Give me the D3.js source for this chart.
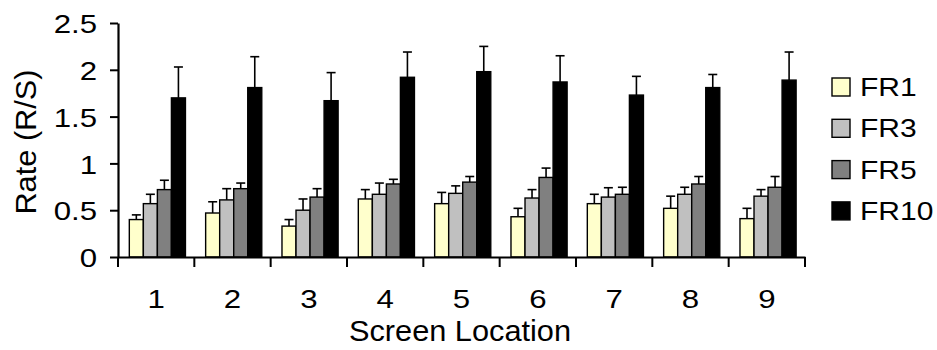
<!DOCTYPE html>
<html>
<head>
<meta charset="utf-8">
<script src="https://cdn.jsdelivr.net/npm/d3@7"></script>
<style>
	body { margin: 0; background: #fff; }
	svg { display: block; font-family: "Liberation Sans", Arial, sans-serif; }
</style>
</head>
<body>
<svg id="chart" width="937" height="350"></svg>
<script>
const locations = ["1", "2", "3", "4", "5", "6", "7", "8", "9"];
const seriesNames = ["FR1", "FR3", "FR5", "FR10"];
const seriesColors = ["#ffffcc", "#c0c0c0", "#808080", "#000000"];
const yTicks = [0, 0.5, 1, 1.5, 2, 2.5];

// mean rate per location, one array per series
const fr1 = [0.40, 0.47, 0.33, 0.62, 0.57, 0.43, 0.57, 0.52, 0.41];
const fr3 = [0.57, 0.61, 0.50, 0.67, 0.68, 0.63, 0.64, 0.67, 0.65];
const fr5 = [0.72, 0.73, 0.64, 0.78, 0.80, 0.85, 0.67, 0.78, 0.745];
const fr10 = [1.70, 1.81, 1.67, 1.92, 1.98, 1.87, 1.73, 1.81, 1.89];

// upper error bar length
const fr1Err = [0.05, 0.12, 0.07, 0.10, 0.12, 0.09, 0.10, 0.13, 0.11];
const fr3Err = [0.10, 0.12, 0.12, 0.12, 0.08, 0.09, 0.10, 0.075, 0.07];
const fr5Err = [0.10, 0.06, 0.09, 0.05, 0.06, 0.10, 0.075, 0.08, 0.115];
const fr10Err = [0.33, 0.33, 0.30, 0.27, 0.27, 0.28, 0.20, 0.14, 0.30];

const values = [fr1, fr3, fr5, fr10];
const errors = [fr1Err, fr3Err, fr5Err, fr10Err];

const svg = d3.select("#chart");
const plotLeft = 118, plotRight = 805, plotTop = 23, plotBottom = 257;
const font = "Liberation Sans, Arial, sans-serif";
// the reference text is drawn wider than Arial, so labels get a horizontal stretch
const labelStretch = 1.2;
const titleStretch = 1.06;

const x0 = d3.scaleBand().domain(locations).range([plotLeft, plotRight]).padding(0);
const x1 = d3.scaleBand().domain(seriesNames).range([0, x0.bandwidth()])
	.paddingInner(0).paddingOuter(0.72).align(0.56);
const y = d3.scaleLinear().domain([0, 2.5]).range([plotBottom, plotTop]);

const rows = [];
locations.forEach((loc, i) => {
	seriesNames.forEach((s, j) => {
		rows.push({ loc, s, j, v: values[j][i], e: errors[j][i] });
	});
});
const cx = (d) => x0(d.loc) + x1(d.s) + x1.bandwidth() / 2;

// error bars (drawn first so bar top covers the stem start)
const eb = svg.append("g").attr("stroke", "#000").attr("stroke-width", 1.6);
eb.selectAll("line.stem").data(rows).enter().append("line")
	.attr("x1", cx).attr("x2", cx)
	.attr("y1", (d) => y(d.v))
	.attr("y2", (d) => y(d.v + d.e));
eb.selectAll("line.cap").data(rows).enter().append("line")
	.attr("x1", (d) => cx(d) - 4.5)
	.attr("x2", (d) => cx(d) + 4.5)
	.attr("y1", (d) => y(d.v + d.e))
	.attr("y2", (d) => y(d.v + d.e));

svg.append("g").selectAll("rect").data(rows).enter().append("rect")
	.attr("x", (d) => x0(d.loc) + x1(d.s))
	.attr("y", (d) => y(d.v))
	.attr("width", x1.bandwidth())
	.attr("height", (d) => y(0) - y(d.v))
	.attr("fill", (d) => seriesColors[d.j])
	.attr("stroke", "#000")
	.attr("stroke-width", 1.4);

// y axis
const yAxis = svg.append("g")
	.attr("transform", `translate(${plotLeft},0)`)
	.call(d3.axisLeft(y).tickValues(yTicks).tickSize(8).tickSizeOuter(0).tickFormat(d3.format("")));
yAxis.select(".domain").attr("stroke-width", 2.2);
yAxis.selectAll(".tick line").attr("stroke-width", 2);
yAxis.selectAll("text")
	.attr("font-size", 26).attr("font-family", font).attr("fill", "#000")
	.attr("x", -21 / labelStretch).attr("dy", "0.37em")
	.attr("transform", `scale(${labelStretch},1)`);

// x axis: labels centred in bands, ticks on band boundaries
const xAxis = svg.append("g")
	.attr("transform", `translate(0,${plotBottom})`)
	.call(d3.axisBottom(x0).tickSize(0).tickSizeOuter(0));
xAxis.select(".domain").attr("stroke-width", 2.2);
xAxis.selectAll("text")
	.attr("font-size", 26).attr("font-family", font).attr("fill", "#000")
	.attr("y", 51).attr("dy", 0)
	.attr("transform", `scale(${labelStretch},1)`);
const bounds = locations.map((l) => x0(l)).concat([plotRight]);
svg.append("g").selectAll("line").data(bounds).enter().append("line")
	.attr("x1", (d) => d).attr("x2", (d) => d)
	.attr("y1", plotBottom).attr("y2", plotBottom + 10)
	.attr("stroke", "#000").attr("stroke-width", 2);

// axis titles
svg.append("text")
	.attr("transform", `translate(36,142) rotate(-90) scale(${titleStretch},1)`)
	.attr("text-anchor", "middle")
	.attr("font-size", 29)
	.text("Rate (R/S)");
svg.append("text")
	.attr("transform", `translate(460,341) scale(${titleStretch},1)`)
	.attr("text-anchor", "middle")
	.attr("font-size", 29)
	.text("Screen Location");

// legend
const legend = svg.append("g").selectAll("g").data(seriesNames).enter().append("g")
	.attr("transform", (d, i) => `translate(832,${78 + i * 41.3})`);
legend.append("rect")
	.attr("width", 18).attr("height", 18)
	.attr("fill", (d, i) => seriesColors[i])
	.attr("stroke", "#000").attr("stroke-width", 1.4);
legend.append("text")
	.attr("transform", `translate(28,18) scale(${labelStretch},1)`)
	.attr("font-size", 25)
	.text((d) => d);
</script>
</body>
</html>
